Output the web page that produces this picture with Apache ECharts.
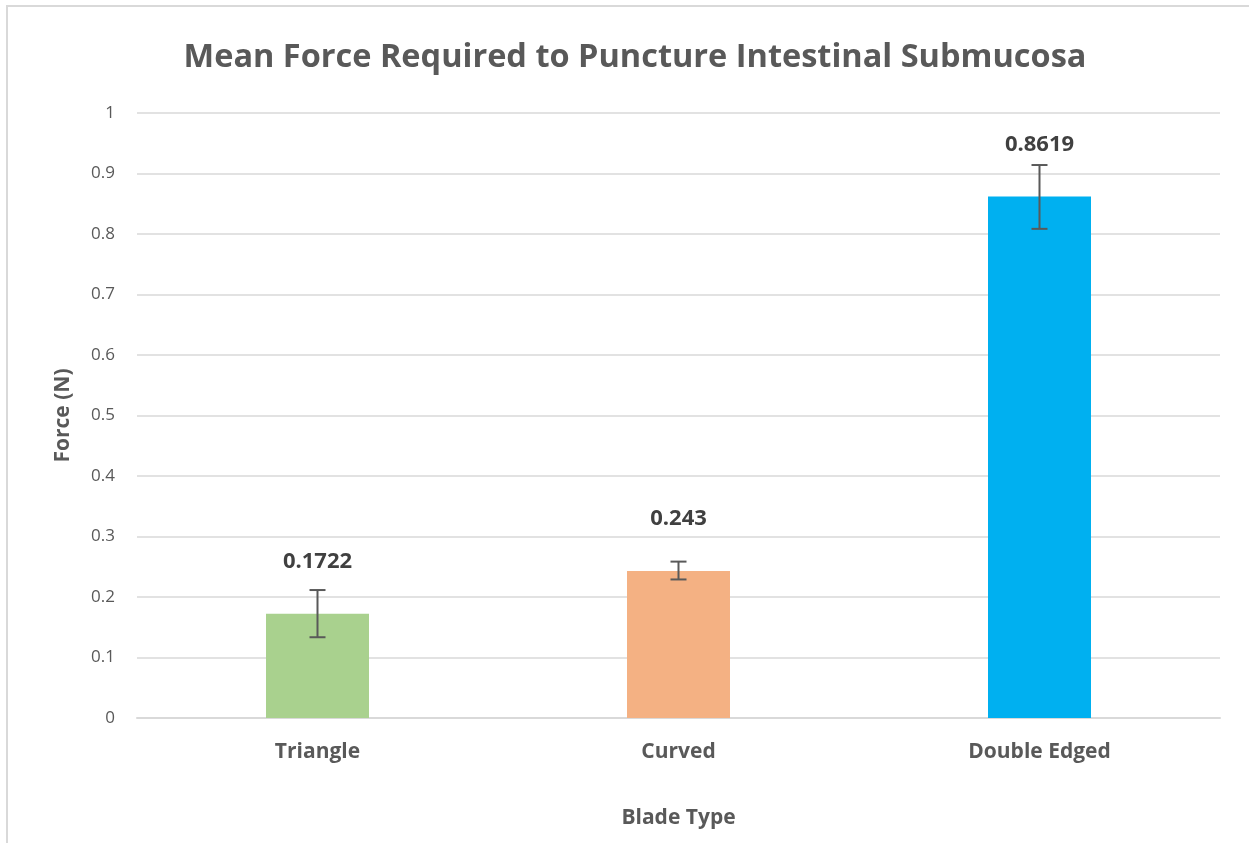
<!DOCTYPE html>
<html>
<head>
<meta charset="utf-8">
<script src="https://cdn.jsdelivr.net/npm/echarts@6/dist/echarts.min.js"></script>
<style>
  html, body { margin: 0; padding: 0; background: #fff; }
  #chart { width: 1249px; height: 843px; }
  #frame {
    position: absolute; left: 6px; top: 5px; right: 0; bottom: 0;
    border-top: 2px solid #d9d9d9; border-left: 2px solid #d9d9d9;
    pointer-events: none;
  }
</style>
</head>
<body>
<div id="chart"></div>
<div id="frame"></div>
<script>
const bladeTypes = ['Triangle', 'Curved', 'Double Edged'];
const meanForce = [0.1722, 0.243, 0.8619];
const errLow = [0.1335, 0.2290, 0.8085];
const errHigh = [0.2115, 0.2585, 0.9140];
const barColors = ['#a9d18e', '#f4b183', '#00b0f0'];
const yTicks = [0, 0.1, 0.2, 0.3, 0.4, 0.5, 0.6, 0.7, 0.8, 0.9, 1];

const font = '"Open Sans", "Noto Sans", sans-serif';
const grey = '#595959';

const chart = echarts.init(document.getElementById('chart'));

const errorData = bladeTypes.map((b, i) => [i, errLow[i], errHigh[i]]);

const option = {
    animation: false,
    title: {
        text: 'Mean Force Required to Puncture Intestinal Submucosa',
        left: 630,
        textAlign: 'center',
        top: 36,
        textStyle: {
            fontFamily: font,
            fontSize: 32.5,
            fontWeight: 'bold',
            color: grey
        }
    },
    grid: {
        left: 137,
        right: 29,
        top: 113,
        bottom: 125
    },
    xAxis: {
        type: 'category',
        data: bladeTypes,
        name: 'Blade Type',
        nameLocation: 'middle',
        nameGap: 90,
        nameTextStyle: {
            fontFamily: font,
            fontSize: 21,
            fontWeight: 'bold',
            color: grey
        },
        axisLine: { lineStyle: { color: '#d9d9d9', width: 2 } },
        axisTick: { show: false },
        axisLabel: {
            margin: 24,
            fontFamily: font,
            fontSize: 21,
            fontWeight: 'bold',
            color: grey
        }
    },
    yAxis: {
        type: 'value',
        min: yTicks[0],
        max: yTicks[yTicks.length - 1],
        interval: 0.1,
        name: 'Force (N)',
        nameLocation: 'middle',
        nameRotate: 90,
        nameGap: 63,
        nameTextStyle: {
            fontFamily: font,
            fontSize: 21,
            fontWeight: 'bold',
            color: grey
        },
        axisLine: { show: false },
        axisTick: { show: false },
        splitLine: { lineStyle: { color: '#d9d9d9', width: 1.5 } },
        axisLabel: {
            margin: 22,
            fontFamily: font,
            fontSize: 17,
            color: grey,
            formatter: v => String(Math.round(v * 10) / 10)
        }
    },
    series: [
        {
            type: 'bar',
            barWidth: 103,
            data: meanForce.map((v, i) => ({ value: v, itemStyle: { color: barColors[i] } })),
            label: {
                show: true,
                position: 'top',
                distance: 41,
                fontFamily: font,
                fontSize: 22,
                fontWeight: 'bold',
                color: '#404040',
                formatter: p => String(meanForce[p.dataIndex])
            },
            z: 2
        },
        {
            type: 'custom',
            data: errorData,
            z: 3,
            renderItem: (params, api) => {
                const x = api.value(0);
                const lo = api.coord([x, api.value(1)]);
                const hi = api.coord([x, api.value(2)]);
                const half = 8;
                const style = { stroke: grey, lineWidth: 2, fill: null };
                return {
                    type: 'group',
                    children: [
                        { type: 'line', shape: { x1: hi[0], y1: hi[1], x2: lo[0], y2: lo[1] }, style },
                        { type: 'line', shape: { x1: hi[0] - half, y1: hi[1], x2: hi[0] + half, y2: hi[1] }, style },
                        { type: 'line', shape: { x1: lo[0] - half, y1: lo[1], x2: lo[0] + half, y2: lo[1] }, style }
                    ]
                };
            }
        }
    ]
};

chart.setOption(option);
</script>
</body>
</html>
